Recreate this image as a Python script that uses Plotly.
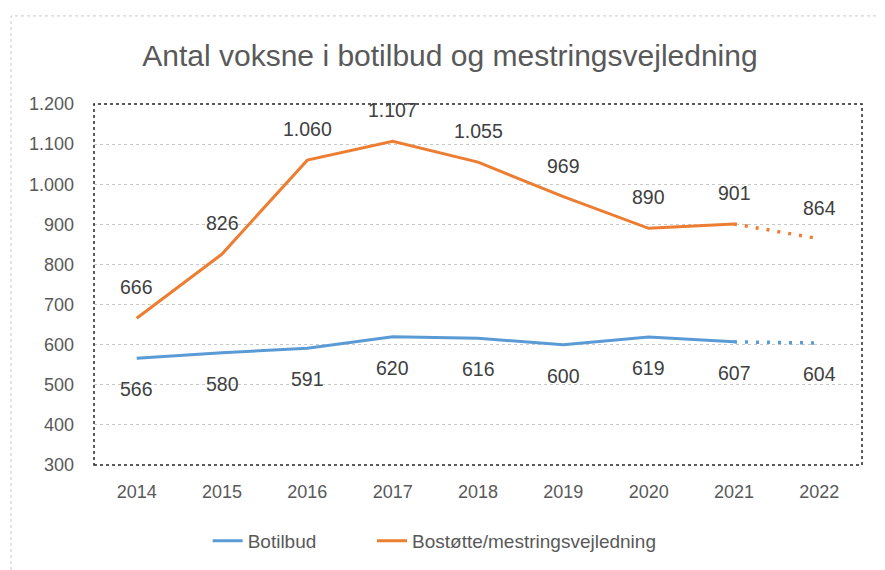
import plotly.graph_objects as go

years = ["2014", "2015", "2016", "2017", "2018", "2019", "2020", "2021", "2022"]
botilbud = [566, 580, 591, 620, 616, 600, 619, 607, 604]
bostotte = [666, 826, 1060, 1107, 1055, 969, 890, 901, 864]
y_ticks = [300, 400, 500, 600, 700, 800, 900, 1000, 1100, 1200]

BLUE = "#5B9BD5"
ORANGE = "#ED7D31"
FONT = "Liberation Sans"
GRAY = "#595959"

def fmt(v):
    return f"{v:,}".replace(",", ".")

fig = go.Figure()
fig.add_trace(go.Scatter(x=years[:8], y=botilbud[:8], mode="lines", name="Botilbud",
                         line=dict(color=BLUE, width=3), legendgroup="b", legend="legend"))
fig.add_trace(go.Scatter(x=years[7:], y=botilbud[7:], mode="lines", showlegend=False,
                         line=dict(color=BLUE, width=3.5, dash="3px,8px"), legendgroup="b"))
fig.add_trace(go.Scatter(x=years[:8], y=bostotte[:8], mode="lines", name="Bostøtte/mestringsvejledning",
                         line=dict(color=ORANGE, width=3), legendgroup="o", legend="legend2"))
fig.add_trace(go.Scatter(x=years[7:], y=bostotte[7:], mode="lines", showlegend=False,
                         line=dict(color=ORANGE, width=3.5, dash="3px,8px"), legendgroup="o",
                         legend="legend2"))

anns = []
for i, v in enumerate(botilbud):
    anns.append(dict(x=i, y=v, xref="x", yref="y", text=fmt(v), showarrow=False, yshift=-31,
                     font=dict(family=FONT, size=19.5, color="#404040")))
for i, v in enumerate(bostotte):
    anns.append(dict(x=i, y=v, xref="x", yref="y", text=fmt(v), showarrow=False, yshift=31,
                     font=dict(family=FONT, size=19.5, color="#404040")))

legend_common = dict(orientation="h", xanchor="left", y=-0.21, yanchor="middle",
                     font=dict(family=FONT, size=19, color=GRAY), bgcolor="rgba(0,0,0,0)")

fig.update_layout(
    width=885, height=570,
    margin=dict(l=86, r=31, t=96, b=113),
    paper_bgcolor="white", plot_bgcolor="white",
    title=dict(text="Antal voksne i botilbud og mestringsvejledning", x=0.4994, xanchor="center",
               xref="container", y=0.9175, yanchor="middle",
               font=dict(family=FONT, size=30, color=GRAY)),
    xaxis=dict(type="category", range=[-0.5, 8.5], showgrid=False, zeroline=False,
               tickfont=dict(family=FONT, size=18, color=GRAY), ticks="",
               ticklabelstandoff=14, automargin=False),
    yaxis=dict(range=[300, 1200], tickvals=y_ticks, ticktext=[fmt(t) for t in y_ticks],
               showgrid=True, gridcolor="#C8C8C8", griddash="dot", gridwidth=1,
               zeroline=False, tickfont=dict(family=FONT, size=18, color=GRAY), ticks="",
               ticklabelstandoff=19, automargin=False),
    legend=dict(x=0.148, **legend_common),
    legend2=dict(x=0.362, **legend_common),
    annotations=anns,
    shapes=[
        dict(type="rect", xref="paper", yref="paper", x0=0, x1=1, y0=0, y1=1,
             line=dict(color="#262626", width=1.5, dash="dot"), layer="above"),
        dict(type="rect", xref="paper", yref="paper", x0=-0.108, x1=1.05, y0=-0.33, y1=1.244,
             line=dict(color="#C8C8C8", width=1, dash="dot")),
    ],
)
fig.write_html("out.html")
